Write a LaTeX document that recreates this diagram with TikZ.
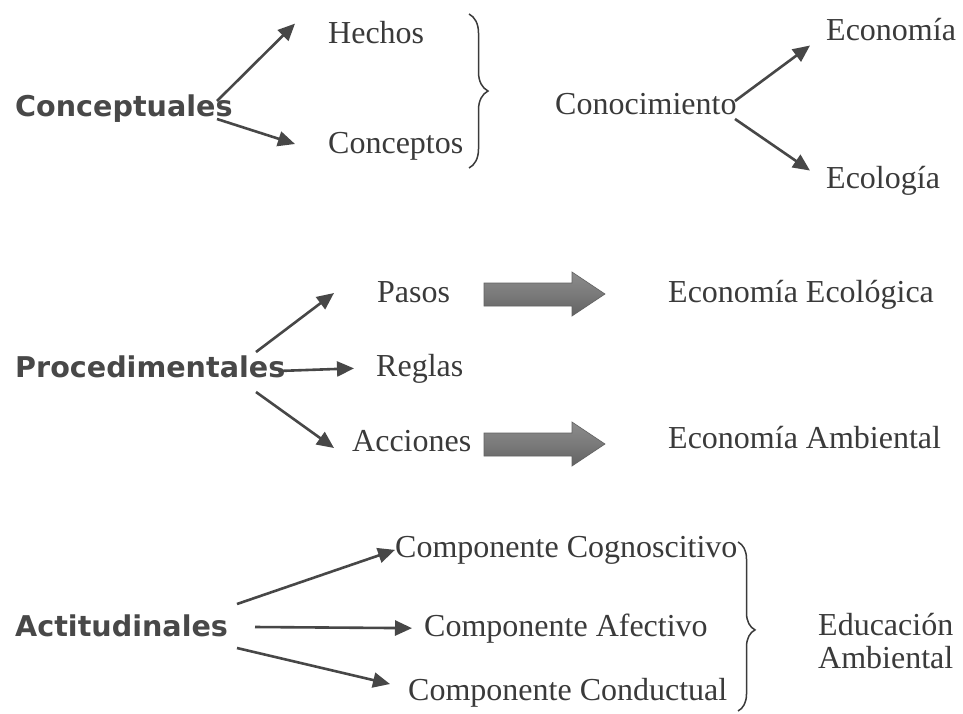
\documentclass[tikz,border=0pt]{standalone}
\usepackage{fontspec}
\setmainfont{Liberation Serif}
\newfontfamily\boldsans{DejaVu Sans Bold}
\usetikzlibrary{arrows.meta,decorations.pathreplacing}
\definecolor{txt}{HTML}{3A3A3A}
\definecolor{hdr}{HTML}{484848}
\definecolor{arr}{HTML}{474747}
\definecolor{blktop}{HTML}{8C8C8C}
\definecolor{blkmid}{HTML}{7A7A7A}
\definecolor{blkbot}{HTML}{626262}
\begin{document}
\begin{tikzpicture}[x=1pt,y=-1pt,
  lbl/.style={anchor=base west,inner sep=0pt,text=txt,font=\fontsize{32}{36}\selectfont},
  hd/.style={anchor=base west,inner sep=0pt,text=hdr,font=\boldsans\fontsize{28.6}{34}\selectfont},
  conn/.style={draw=arr,line width=2.6pt,-{Triangle[length=17pt,width=15pt]}},
  brc/.style={draw=txt,line width=1.5pt,decorate},
  blk/.style={top color=blktop,bottom color=blkbot,middle color=blkmid,draw=blkbot,line width=0.6pt}
]
\useasboundingbox (0,0) rectangle (963,713);
\fill[white] (0,0) rectangle (963,713);
% Row 1
\node[hd] (conc) at (15,116) {Conceptuales};
\node[lbl] (hech) at (328,43) {Hechos};
\node[lbl] (cpto) at (328,153) {Conceptos};
\node[lbl] (cono) at (555,114) {Conocimiento};
\node[lbl] (econ) at (826,40) {Economía};
\node[lbl] (ecol) at (826,188) {Ecología};
\coordinate (c1) at (217,101);
\coordinate (c2) at (217,119);
\coordinate (k1) at (735,101);
\coordinate (k2) at (735,119);
\draw[conn] (c1) -- ([xshift=-33pt,yshift=-3pt]hech.north west);
\draw[conn] (c2) -- ([xshift=-33pt,yshift=16pt]cpto.south west);
\draw[conn] (k1) -- ([xshift=-16pt,yshift=-5pt]econ.south west);
\draw[conn] (k2) -- ([xshift=-16pt,yshift=-5pt]ecol.north west);
\draw[brc,decoration={brace,amplitude=19pt,aspect=0.5}] (469,14) -- coordinate (b1) (469,168);
% Row 2
\node[hd] (proc) at (15,377) {Procedimentales};
\node[lbl] (paso) at (377,302) {Pasos};
\node[lbl] (regl) at (376,376) {Reglas};
\node[lbl] (acci) at (352,451) {Acciones};
\node[lbl] (eeco) at (668,302) {Economía Ecológica};
\node[lbl] (eamb) at (668,448) {Economía Ambiental};
\coordinate (p1) at (256,352);
\coordinate (p2) at (278,371);
\coordinate (p3) at (256,392);
\draw[conn] (p1) -- (334,293);
\draw[conn] (p2) -- ([xshift=-22pt]regl.west);
\draw[conn] (p3) -- (334,448);
\shade[blk] (484,283) -- (572,283) -- (572,272) -- (605,294) -- (572,316) -- (572,306) -- (484,306) -- cycle;
\shade[blk] (484,433) -- (572,433) -- (572,422) -- (605,444) -- (572,466) -- (572,456) -- (484,456) -- cycle;
% Row 3
\node[hd] (acti) at (15,636) {Actitudinales};
\node[lbl] (cogn) at (395,557) {Componente Cognoscitivo};
\node[lbl] (afec) at (424,636) {Componente Afectivo};
\node[lbl] (cond) at (408,700) {Componente Conductual};
\node[lbl] (educ) at (818,635) {Educación};
\node[lbl] (ambi) at (818,668) {Ambiental};
\coordinate (a1) at (237,604);
\coordinate (a2) at (255,627);
\coordinate (a3) at (237,648);
\draw[conn] (a1) -- (cogn.west);
\draw[conn] (a2) -- ([xshift=-12pt]afec.west);
\draw[conn] (a3) -- (390,684);
\draw[brc,decoration={brace,amplitude=17pt,aspect=0.52}] (738,542) -- coordinate (b2) (738,711);
\end{tikzpicture}
\end{document}
